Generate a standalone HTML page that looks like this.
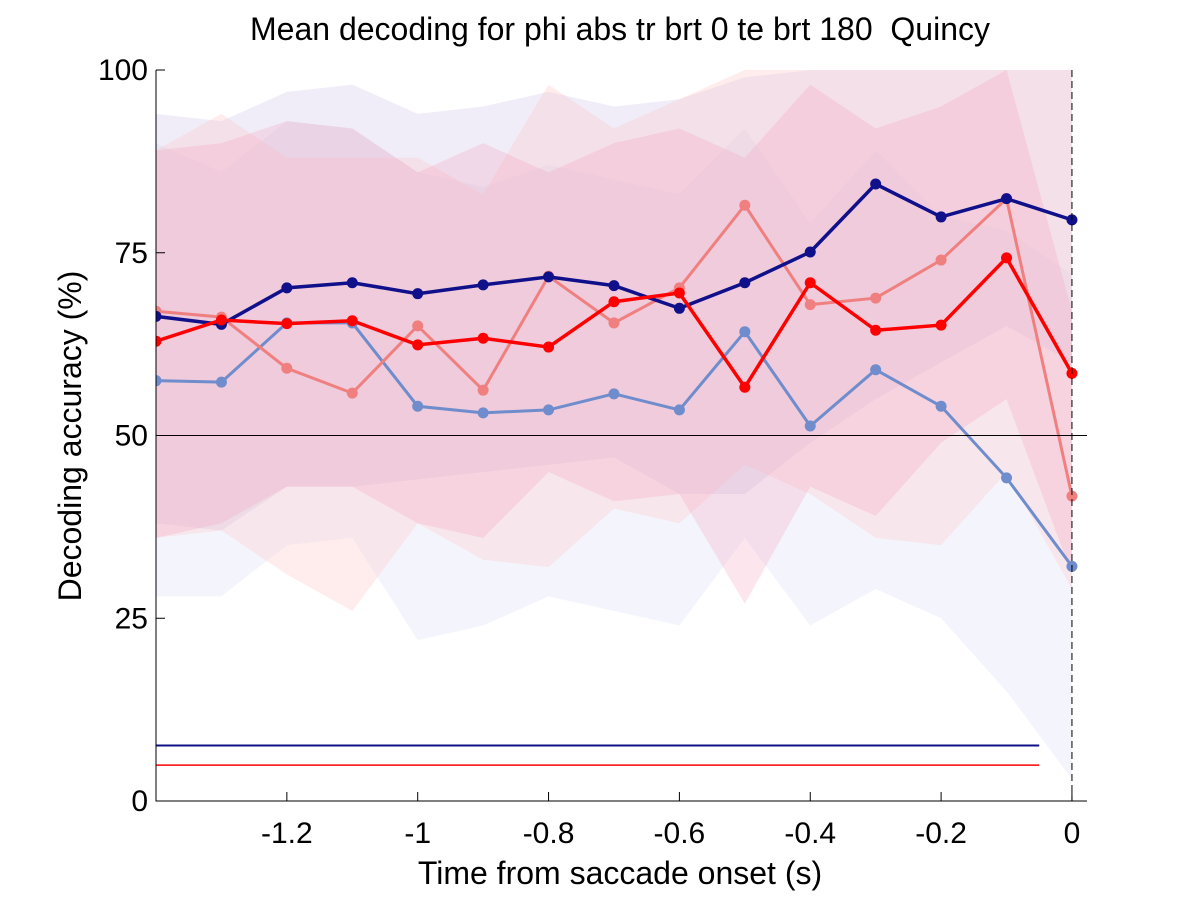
<!DOCTYPE html>
<html><head><meta charset="utf-8"><style>
body{margin:0;background:#fff;width:1200px;height:900px;overflow:hidden}
svg text{font-family:"Liberation Sans",sans-serif;fill:#000;white-space:pre}
</style></head><body>
<svg id="chart" width="1200" height="900" viewBox="0 0 1200 900"></svg>
<script>
const times=[-1.4,-1.3,-1.2,-1.1,-1.0,-0.9,-0.8,-0.7,-0.6,-0.5,-0.4,-0.3,-0.2,-0.1,0];
const darkBlue=[66.3,65.2,70.2,70.9,69.4,70.6,71.7,70.5,67.4,70.9,75.1,84.4,79.9,82.4,79.5];
const lightBlue=[57.5,57.3,65.4,65.4,54.0,53.1,53.5,55.7,53.5,64.2,51.3,59.0,54.0,44.2,32.1];
const red=[62.9,65.8,65.3,65.7,62.4,63.3,62.1,68.3,69.5,56.6,70.9,64.4,65.1,74.3,58.5];
const pink=[67.0,66.2,59.2,55.8,65.0,56.2,71.8,65.4,70.2,81.5,67.9,68.8,74.0,82.4,41.7];
const dbUp=[94,93,97,98,94,95,97,95,96,99,100,100,100,100,100];
const dbLo=[38,37,43,43,44,45,46,47,42,42,49,55,60,65,60];
const lbUp=[90,86,93,92,86,84,87,85,83,92,79,89,80,78,72];
const lbLo=[28,28,35,36,22,24,28,26,24,36,24,29,25,15,3];
const rdUp=[89,90,93,92,86,90,86,90,92,88,98,92,95,100,67];
const rdLo=[36,38,43,43,38,36,45,41,42,27,43,39,49,55,31];
const pkUp=[89,94,88,88,88,83,98,92,96,100,100,100,100,100,100];
const pkLo=[36,37,31,26,38,33,32,40,38,46,42,36,35,45,29];
const xTicks=[-1.2,-1,-0.8,-0.6,-0.4,-0.2,0];
const xTickLabels=["-1.2","-1","-0.8","-0.6","-0.4","-0.2","0"];
const yTicks=[0,25,50,75,100];
const sigBlue=7.6, sigRed=4.9, sigEnd=-0.05;

const L=156,R=1087,T=70,B=801,x0=-1.4,x1=0.023;
const X=v=>L+(v-x0)/(x1-x0)*(R-L);
const Y=v=>B-v/100*(B-T);
const NS="http://www.w3.org/2000/svg";
const svg=document.getElementById('chart');
function mk(tag,attrs,parent){const e=document.createElementNS(NS,tag);for(const k in attrs)e.setAttribute(k,attrs[k]);(parent||svg).appendChild(e);return e;}
const defs=mk('defs',{});
const cp=mk('clipPath',{id:'clip'},defs);mk('rect',{x:L,y:T,width:R-L,height:B-T},cp);
const g=mk('g',{'clip-path':'url(#clip)'});

function band(up,lo,color,name){
  let d='';times.forEach((t,i)=>{d+=(i?'L':'M')+X(t)+','+Y(up[i]);});
  for(let i=times.length-1;i>=0;i--)d+='L'+X(times[i])+','+Y(lo[i]);
  const p=mk('path',{d:d+'Z',fill:color,'fill-opacity':0.28},g);
  
  
}
band(lbUp,lbLo,'#d6dcf5','light-blue-band');
band(dbUp,dbLo,'#c8c0e6','dark-blue-band');
band(pkUp,pkLo,'#ffc0c0','pink-band');
band(rdUp,rdLo,'#f5a0c0','red-band');

const h=mk('line',{x1:L,x2:R,y1:Y(50),y2:Y(50),stroke:'#000','stroke-width':1});


const vl=mk('line',{x1:X(0),x2:X(0),y1:T,y2:B,stroke:'#000','stroke-width':1,'stroke-dasharray':'7,4'});



function series(vals,color,w,name){
  const pts=times.map((t,i)=>X(t)+','+Y(vals[i])).join(' ');
  const pl=mk('polyline',{points:pts,fill:'none',stroke:color,'stroke-width':w},g);
  
  
  times.forEach((t,i)=>{
    const c=mk('circle',{cx:X(t),cy:Y(vals[i]),r:5.5,fill:color},g);
    
    
  });
}
series(lightBlue,'#6f8ccc',3,'light-blue-series');
series(pink,'#f08080',3,'pink-series');
series(darkBlue,'#10108a',3.5,'dark-blue-series');
series(red,'#ff0000',3.5,'red-series');

const sb=mk('line',{x1:L,x2:X(sigEnd),y1:Y(sigBlue),y2:Y(sigBlue),stroke:'#10108a','stroke-width':2});


const sr=mk('line',{x1:L,x2:X(sigEnd),y1:Y(sigRed),y2:Y(sigRed),stroke:'#ff0000','stroke-width':1.5});



const ax=mk('path',{d:`M${L},${T}V${B}H${R}`,fill:'none',stroke:'#000','stroke-width':1});


xTicks.forEach((t,i)=>{
  mk('line',{x1:X(t),x2:X(t),y1:B,y2:B-9,stroke:'#000'});
  const tx=mk('text',{x:X(t),y:B+42,'text-anchor':'middle','font-size':30});
  tx.textContent=xTickLabels[i];
  
  
});
yTicks.forEach(v=>{
  mk('line',{x1:L,x2:L+9,y1:Y(v),y2:Y(v),stroke:'#000'});
  const tx=mk('text',{x:L-8,y:Y(v)+10,'text-anchor':'end','font-size':30});
  tx.textContent=String(v);
  
  
});
const t1=mk('text',{x:620,y:40,'text-anchor':'middle','font-size':32,'xml:space':'preserve'});
t1.textContent='Mean decoding for phi abs tr brt 0 te brt 180  Quincy';


const t2=mk('text',{x:620,y:884,'text-anchor':'middle','font-size':32});
t2.textContent='Time from saccade onset (s)';


const t3=mk('text',{x:0,y:0,'text-anchor':'middle','font-size':32,transform:`translate(81,436) rotate(-90)`});
t3.textContent='Decoding accuracy (%)';


</script>
</body></html>
